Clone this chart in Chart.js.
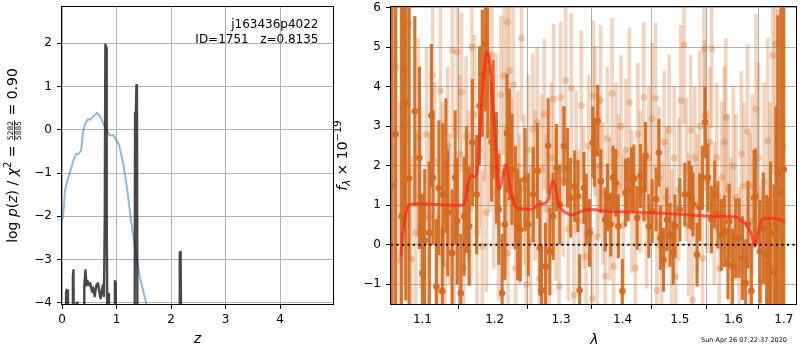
<!DOCTYPE html>
<html>
<head>
<meta charset="utf-8">
<script src="https://cdn.jsdelivr.net/npm/chart.js@4.4.1/dist/chart.umd.min.js"></script>
<style>
body{margin:0;background:#fff;width:800px;height:350px;overflow:hidden;position:relative}
canvas{position:absolute;top:0}
</style>
</head>
<body>
<canvas id="pzHTML" width="340" height="350" style="left:0"></canvas>
<canvas id="specHTML" width="470" height="350" style="left:330px"></canvas>
<script>
// left panel: p(z) and chi2 curves
const Z_PZ=[0,0.07,0.075,0.085,0.10,0.11,0.19,0.20,0.21,0.225,0.26,0.27,0.285,0.30,0.40,0.41,0.43,0.45,0.47,0.50,
0.52,0.55,0.57,0.60,0.63,0.66,0.69,0.71,0.73,0.75,0.77,0.785,0.795,0.81,0.82,0.83,0.845,0.86,0.96,0.97,
0.985,0.995,1.33,1.34,1.355,1.365,1.375,1.385,2.15,2.16,2.175,2.19,4.97]
const LOGP_PZ=[-6,-6,-3.75,-3.7,-3.72,-6,-6,-3.4,-3.25,-6,-6,-4.0,-4.0,-6,-6,-3.6,-3.25,-3.6,-3.5,-3.6,
-3.55,-3.75,-3.65,-3.85,-3.6,-3.55,-3.8,-3.9,-3.7,-3.6,-3.85,-2,1.97,1.9,-2,-4.05,-3.8,-6,-6,-3.5,
-3.55,-6,-6,0.39,0.4,1.03,1.0,-6,-6,-2.85,-2.82,-6,-6]
const Z_CHI=[0,0.024,0.055,0.098,0.147,0.21,0.257,0.30,0.35,0.39,0.44,0.48,0.51,0.56,0.64,0.70,0.76,0.82,0.88,0.94,
1.0,1.05,1.125,1.19,1.25,1.31,1.37,1.43,1.49,1.55,1.60]
const LOGP_CHI=[-2.1,-1.95,-1.41,-1.18,-0.98,-0.71,-0.56,-0.56,-0.48,-0.02,0.18,0.25,0.23,0.29,0.39,0.31,0.14,-0.02,-0.13,-0.12,
-0.25,-0.36,-0.79,-1.33,-1.94,-2.49,-2.96,-3.42,-3.73,-4.04,-4.4]
const Z_TICKS=[0,1,2,3,4]
const LOGP_TICKS=[-4,-3,-2,-1,0,1,2]

// right panel: spectrum, two orients + model
const LAM_DK=[1.0603,1.0650,1.0725,1.0756,1.0781,1.0824,1.0899,1.0960,1.1000,1.1030,
1.1090,1.1119,1.1140,1.1185,1.1220,1.1266,1.1274,1.1315,1.1342,1.1401,
1.1442,1.1470,1.1520,1.1566,1.1600,1.1636,1.1682,1.1742,1.1784,1.1822,
1.1869,1.1900,1.1955,1.1979,1.2026,1.2060,1.2108,1.2147,1.2180,1.2214,
1.2253,1.2302,1.2338,1.2376,1.2446,1.2496,1.2571,1.2637,1.2672,1.2698,
1.2759,1.2799,1.2825,1.2876,1.2928,1.2979,1.3046,1.3099,1.3151,1.3214,
1.3266,1.3293,1.3362,1.3400,1.3453,1.3506,1.3533,1.3586,1.3637,1.3709,
1.3747,1.3801,1.3840,1.3884,1.3928,1.3995,1.4050,1.4095,1.4151,1.4192,
1.4248,1.4304,1.4363,1.4391,1.4449,1.4507,1.4575,1.4625,1.4653,1.4706,
1.4765,1.4822,1.4880,1.4912,1.5000,1.5090,1.5168,1.5211,1.5240,1.5313,
1.5363,1.5412,1.5461,1.5516,1.5580,1.5642,1.5704,1.5768,1.5831,1.5894,
1.5917,1.5980,1.6043,1.6108,1.6173,1.6237,1.6284,1.6349,1.6402,1.6434,
1.6520,1.6586,1.6652,1.6700,1.6732,1.6800,1.6840,1.6880,1.6945,1.7000]
const FLUX_DK=[1.5,2.8,0.72,4.41,3.6,1.68,3.38,2.2,-0.72,0.11,
0.3,3.27,1.70,-1.06,1.44,-1.17,1.27,2.0,0.81,-0.21,
1.70,0.6,-1.23,0.72,1.4,0.47,2.59,1.27,3.52,4.34,
5.09,4.4,2.6,3.18,1.95,0.9,-1.23,0.51,2.82,2.54,
1.91,1.19,0.51,0.38,1.65,0.51,1.27,1.87,-0.08,-1.15,
-0.55,2.5,-0.17,0.72,1.95,1.02,2.5,1.95,1.19,1.48,
1.23,-1.15,1.44,0.89,0.3,2.59,2.33,3.14,1.61,0.64,
1.2,0.51,1.70,1.57,0.47,-1.17,1.32,1.4,1.65,1.68,
0.68,1.74,1.4,2.25,0.47,0.85,1.15,2.33,0.17,-0.38,
0.64,0.25,-0.21,0.47,0.89,1.27,1.27,1.19,1.02,-0.25,
0.95,1.70,3.10,1.70,0.64,1.27,0.76,0.25,0.34,-0.47,
0.59,-0.55,0.17,0.17,-0.34,-0.97,0.51,-1.17,1.19,1.23,
-0.17,0.42,-0.25,-0.51,0.3,-0.68,0.5,1.8,1.32,1.91]
const ERR_DK=[4.5,5.0,5.5,4.0,5.0,4.5,2.4,2.3,2.0,1.8,
1.8,1.8,1.7,1.7,1.7,1.6,1.8,1.7,1.6,1.6,
1.7,1.6,1.5,1.5,1.6,1.5,1.6,1.5,1.5,1.6,
1.7,1.7,1.5,1.5,1.4,1.4,1.5,1.4,1.5,1.4,
1.4,1.3,1.4,1.3,1.3,1.3,1.2,1.2,1.2,1.1,
1.1,1.2,1.1,1.1,1.1,1.0,1.0,1.0,1.0,0.9,
0.9,0.9,0.9,0.9,0.85,0.9,0.85,0.9,0.8,0.8,
0.85,0.8,0.8,0.85,0.8,0.8,0.85,0.8,0.8,0.85,
0.8,0.8,0.8,0.85,0.8,0.8,0.8,0.85,0.8,0.8,
0.8,0.8,0.8,0.8,0.8,0.8,0.85,0.8,0.8,0.8,
0.85,0.8,0.9,0.85,0.85,0.85,0.85,0.9,0.9,0.9,
0.95,0.95,1.0,1.0,1.05,1.1,1.1,1.2,1.2,1.2,
1.3,1.4,1.5,1.7,1.8,2.2,3.0,4.0,5.0,6.0]

const LAM_LT=[1.0603,1.0652,1.0705,1.0756,1.0819,1.0855,1.0912,1.0942,1.0978,1.1053,
1.1096,1.1136,1.1162,1.1205,1.1241,1.1268,1.1307,1.1338,1.1374,1.1405,
1.1427,1.1472,1.1502,1.1531,1.1562,1.1593,1.1630,1.1660,1.1675,1.1712,
1.1746,1.1780,1.1822,1.1850,1.1882,1.1928,1.1960,1.1987,1.2019,1.2056,
1.2090,1.2135,1.2160,1.2181,1.2195,1.2218,1.2244,1.2274,1.2307,1.2336,
1.2365,1.2394,1.2431,1.2467,1.2496,1.2533,1.2565,1.2600,1.2630,1.2664,
1.2697,1.2739,1.2772,1.2815,1.2848,1.2882,1.2917,1.2968,1.2994,1.3033,
1.3072,1.3111,1.3161,1.3203,1.3237,1.3277,1.3320,1.3357,1.3397,1.3438,
1.3497,1.3512,1.3540,1.3576,1.3608,1.3633,1.3674,1.3710,1.3745,1.3787,
1.3824,1.3850,1.3889,1.3930,1.3972,1.4014,1.4056,1.4115,1.4157,1.4218,
1.4260,1.4303,1.4361,1.4408,1.4451,1.4504,1.4566,1.4590,1.4628,1.4673,
1.4717,1.4762,1.4807,1.4852,1.4897,1.4924,1.4979,1.5015,1.5076,1.5116,
1.5162,1.5198,1.5230,1.5272,1.5318,1.5364,1.5414,1.5444,1.5460,1.5503,
1.5550,1.5587,1.5634,1.5682,1.5730,1.5777,1.5825,1.5854,1.5902,1.5950,
1.5998,1.6046,1.6111,1.6154,1.6202,1.6275,1.6320,1.6370,1.6440,1.6490,
1.6540,1.6600,1.6674,1.6721,1.6776,1.6829,1.6878,1.6925,1.6986]
const FLUX_LT=[2.0,4.5,-0.4,3.0,5.6,-0.36,0.3,2.72,1.2,2.8,
0.72,4.3,2.1,-1.15,3.9,1.6,-0.5,2.5,0.9,4.92,
0.25,4.88,2.3,3.86,-0.6,2.76,1.5,0.93,5.0,3.3,
0.3,2.4,-0.04,3.6,0.81,2.84,4.8,1.3,2.84,0.5,
3.8,4.28,1.1,5.64,-0.21,4.41,1.8,4.05,-0.6,2.0,
0.9,5.23,1.4,-1.0,2.4,0.1,2.93,1.5,3.1,-0.85,
1.9,3.31,0.9,-0.13,2.2,3.69,1.0,-1.06,3.73,1.6,
4.16,0.4,3.96,-1.27,2.1,0.6,3.52,1.2,-0.3,2.5,
-1.36,3.77,3.14,0.2,2.0,3.65,1.3,-0.8,2.7,0.9,
3.83,-0.55,2.3,1.5,3.0,0.5,2.4,3.6,1.1,-0.59,
2.8,1.6,3.73,0.7,2.2,3.2,3.71,-1.15,1.7,0.3,
2.6,1.2,2.9,0.1,2.2,-0.81,1.4,3.65,5.07,1.9,
0.5,2.9,-1.4,2.2,1.0,3.0,-0.34,4.96,3.27,1.6,
2.6,4.96,0.8,2.2,-0.6,1.7,2.6,3.22,1.4,0.2,
2.0,1.2,-0.64,2.3,1.5,2.86,0.6,1.5,3.43,2.2,
-0.9,1.6,2.63,0.9,4.79,5.09,1.95,3.0,2.5]
const ERR_LT=[6,5,4,4,3,2.6,2.6,2.5,2.3,2.2,
2.1,2.1,2.0,2.0,2.2,2.0,1.9,2.0,1.9,2.2,
1.9,2.2,2.0,2.0,1.9,2.0,1.9,1.9,2.2,2.0,
1.9,2.0,1.9,2.0,2.0,2.0,2.2,1.9,2.0,1.9,
2.0,2.0,1.9,2.0,1.9,2.0,1.9,2.0,1.9,1.9,
1.9,2.1,1.9,1.9,1.9,1.9,1.9,1.9,1.9,1.9,
1.9,1.9,1.9,1.9,1.9,1.9,1.9,1.9,1.9,1.9,
1.9,1.8,1.9,1.8,1.8,1.8,1.9,1.8,1.8,1.8,
1.8,1.9,1.9,1.8,1.8,1.9,1.8,1.8,1.8,1.8,
1.9,1.8,1.8,1.8,1.8,1.8,1.8,1.9,1.8,1.8,
1.8,1.8,1.9,1.8,1.8,1.9,1.9,1.8,1.8,1.8,
1.8,1.8,1.9,1.8,1.8,1.8,1.8,1.9,2.0,1.8,
1.8,1.9,1.8,1.8,1.8,1.9,1.8,2.0,1.9,1.8,
1.9,2.0,1.8,1.9,1.9,1.9,1.9,2.0,1.9,2.0,
2.0,2.1,2.1,2.1,2.1,2.2,2.2,2.3,2.4,2.4,
2.4,2.5,2.6,2.7,3.0,3.5,4.0,5.0,6.0]

const LAM_MOD=[1.0718,1.074,1.077,1.081,1.086,1.10,1.12,1.14,1.155,1.159,1.163,1.167,1.171,1.1745,1.178,1.182,1.1865,1.189,1.1915,1.1936,
1.197,1.2003,1.203,1.2057,1.209,1.213,1.2161,1.219,1.2225,1.2254,1.2300,1.2347,1.2558,1.2653,1.2750,1.280,1.2840,1.2872,1.2905,1.2947,
1.2985,1.3022,1.310,1.3174,1.325,1.335,1.3458,1.38,1.41,1.44,1.47,1.50,1.53,1.56,1.595,1.608,1.615,1.622,1.628,1.634,
1.638,1.642,1.646,1.650,1.655,1.662,1.675,1.687,1.695,1.702]
const FLUX_MOD=[-0.3,0.2,0.65,0.97,1.03,1.04,1.02,1.0,1.0,1.2,1.6,1.76,1.72,1.8,2.6,3.8,4.7,4.88,4.75,4.5,
3.6,2.84,1.9,1.4,1.5,1.85,2.04,1.85,1.45,1.2,0.98,0.92,0.9,1.02,1.05,1.15,1.45,1.62,1.5,1.13,
0.95,0.87,0.79,0.76,0.8,0.86,0.89,0.84,0.83,0.81,0.8,0.77,0.74,0.72,0.71,0.69,0.6,0.56,0.45,0.3,
0.12,-0.04,0.12,0.42,0.62,0.67,0.67,0.65,0.63,0.57]
const LAM_TICKS=[1.1,1.2,1.3,1.4,1.5,1.6,1.7]
const FLUX_TICKS=[-1,0,1,2,3,4,5,6]

const FAM="'DejaVu Sans'"
Chart.defaults.font.family=FAM
Chart.defaults.font.size=12
Chart.defaults.color='#000'

let ChartL, ChartR

function Minus(v){return String(v).replace('-','\u2212')}
function FixTicks(vals){return s=>{s.ticks=vals.map(v=>({value:v}))}}
function AxisFit(size){return s=>{if(s.isHorizontal()){s.height=size}else{s.width=size};s.paddingTop=0;s.paddingBottom=0;s.paddingLeft=0;s.paddingRight=0}}
function Grid(){return {color:'#b0b0b0',lineWidth:1,tickColor:'#000',tickLength:5,tickWidth:1}}
function XY(xs,ys){return xs.map((x,i)=>({x:x,y:ys[i]}))}
function ErrBars(xs,ys,es){return xs.map((x,i)=>({x:x,y:[ys[i]-es[i],ys[i]+es[i]]}))}

// text made of pieces: normal, italic, sub/superscript, small fraction
function DrawRich(ctx,parts,cx,cy,rot){
	ctx.save();ctx.translate(cx,cy);ctx.rotate(rot);
	let w=0;
	parts.forEach(p=>{ctx.font=p.f;p.w=p.frac?Math.max(ctx.measureText(p.frac[0]).width,ctx.measureText(p.frac[1]).width)+2:ctx.measureText(p.t).width;w+=p.w});
	let x=-w/2;
	ctx.fillStyle='#000';ctx.textBaseline='alphabetic';ctx.textAlign='left';
	parts.forEach(p=>{
		ctx.font=p.f;
		if(p.frac){
			ctx.textAlign='center';
			ctx.fillText(p.frac[0],x+p.w/2,-3.6);
			ctx.fillText(p.frac[1],x+p.w/2,4.4);
			ctx.fillRect(x+0.5,-2.9,p.w-1,0.8);
			ctx.textAlign='left';
		}else{ctx.fillText(p.t,x,p.dy||0)}
		x+=p.w;
	});
	ctx.restore();
}

const BoxPlugin={id:'box',afterDatasetsDraw(c){
	const a=c.chartArea,ctx=c.ctx;
	ctx.save();ctx.strokeStyle='#000';ctx.lineWidth=1;
	ctx.strokeRect(a.left-0.5,a.top-0.5,a.right-a.left+1,a.bottom-a.top+1);
	ctx.restore();
}}

const LeftText={id:'ltxt',afterDraw(c){
	const ctx=c.ctx;
	const N='14px '+FAM, I='italic 14px '+FAM;
	DrawRich(ctx,[{t:'log ',f:N},{t:'p',f:I},{t:'(',f:N},{t:'z',f:I},{t:') / ',f:N},{t:'\u03c7',f:I},{t:'2',f:'10px '+FAM,dy:-6},
		{t:' = ',f:N},{frac:['5282','5885'],f:'7.5px '+FAM},{t:' = 0.90',f:N}],17,155.5,-Math.PI/2);
	DrawRich(ctx,[{t:'z',f:I}],197.5,343,0);
	ctx.save();ctx.font='12px '+FAM;ctx.textAlign='right';ctx.fillStyle='#000';
	ctx.fillText('j163436p4022',318.5,27.5);
	ctx.fillText('ID=1751   z=0.8135',318.5,42.5);
	ctx.restore();
}}

const RightText={id:'rtxt',afterDraw(c){
	const ctx=c.ctx;
	const N='14px '+FAM, I='italic 14px '+FAM;
	DrawRich(ctx,[{t:'f',f:I},{t:'\u03bb',f:'italic 10px '+FAM,dy:3},{t:' \u00d7 10',f:N},{t:'\u221219',f:'10px '+FAM,dy:-6}],17,155.5,-Math.PI/2);
	DrawRich(ctx,[{t:'\u03bb',f:I}],264.5,344,0);
	ctx.save();ctx.font='6.5px '+FAM;ctx.textAlign='right';ctx.fillStyle='#000';
	ctx.fillText('Sun Apr 26 07:22:37 2020',457,342);
	ctx.restore();
}}

function LoadLeft(){
	ChartL=new Chart(document.getElementById('pzHTML'),{
		type:'line',
		data:{datasets:[
			{data:XY(Z_PZ,LOGP_PZ),borderColor:'rgba(30,30,30,0.82)',borderWidth:2.4,pointRadius:0,clip:0,borderJoinStyle:'round',order:1},
			{data:XY(Z_CHI,LOGP_CHI),borderColor:'rgba(31,119,180,0.5)',borderWidth:2,pointRadius:0,clip:0,borderJoinStyle:'round',order:2}
		]},
		options:{
			responsive:false,animation:false,
			layout:{padding:{top:7,right:7,left:0,bottom:0}},
			plugins:{legend:{display:false},tooltip:{enabled:false}},
			events:[],
			scales:{
				x:{type:'linear',min:0,max:4.97,afterBuildTicks:FixTicks(Z_TICKS),afterFit:AxisFit(46),
					ticks:{padding:4,maxRotation:0,autoSkip:false,callback:v=>String(v)},grid:Grid(),border:{display:false}},
				y:{type:'linear',min:-4.03,max:2.84,afterBuildTicks:FixTicks(LOGP_TICKS),afterFit:AxisFit(62),
					ticks:{padding:5,autoSkip:false,callback:v=>Minus(v)},grid:Grid(),border:{display:false}}
			}
		},
		plugins:[BoxPlugin,LeftText]
	});
}

function LoadRight(){
	ChartR=new Chart(document.getElementById('specHTML'),{
		type:'scatter',
		data:{datasets:[
			{type:'bar',data:ErrBars(LAM_LT,FLUX_LT,ERR_LT),backgroundColor:'rgba(210,105,30,0.28)',barThickness:3,grouped:false,borderWidth:0,order:6},
			{type:'scatter',data:XY(LAM_LT,FLUX_LT),pointRadius:3.5,backgroundColor:'rgba(210,105,30,0.3)',borderWidth:0,clip:0,order:5},
			{type:'bar',data:ErrBars(LAM_DK,FLUX_DK,ERR_DK),backgroundColor:'rgba(210,105,30,0.92)',barThickness:2.5,grouped:false,borderWidth:0,order:4},
			{type:'scatter',data:XY(LAM_DK,FLUX_DK),pointRadius:3.3,backgroundColor:'rgba(210,105,30,0.92)',borderWidth:0,clip:0,order:3},
			{type:'line',data:XY(LAM_MOD,FLUX_MOD),borderColor:'rgba(255,35,25,0.7)',borderWidth:3,pointRadius:0,cubicInterpolationMode:'monotone',clip:0,order:2},
			{type:'line',data:[{x:1.0591,y:0},{x:1.7252,y:0}],borderColor:'#000',borderWidth:2,borderDash:[2,3.5],pointRadius:0,clip:0,order:1}
		]},
		options:{
			responsive:false,animation:false,
			layout:{padding:{top:7,right:1,left:0,bottom:0}},
			plugins:{legend:{display:false},tooltip:{enabled:false}},
			events:[],
			scales:{
				x:{type:'logarithmic',min:1.0591,max:1.7252,afterBuildTicks:FixTicks(LAM_TICKS),afterFit:AxisFit(46),
					ticks:{padding:4,maxRotation:0,autoSkip:false,callback:v=>Number(v).toFixed(1)},grid:Grid(),border:{display:false}},
				y:{type:'linear',min:-1.5,max:6.02,afterBuildTicks:FixTicks(FLUX_TICKS),afterFit:AxisFit(61),
					ticks:{padding:5,autoSkip:false,callback:v=>Minus(v)},grid:Grid(),border:{display:false}}
			}
		},
		plugins:[BoxPlugin,RightText]
	});
}

LoadLeft()
LoadRight()
</script>
</body>
</html>
